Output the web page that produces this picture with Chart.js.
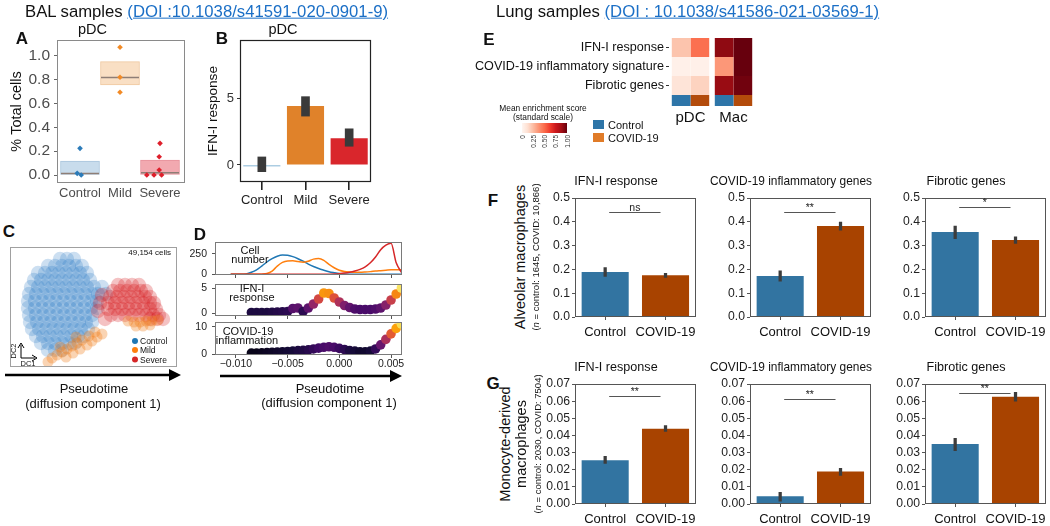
<!DOCTYPE html>
<html><head><meta charset="utf-8">
<script src="https://cdn.jsdelivr.net/npm/chart.js@4.4.1/dist/chart.umd.min.js"></script>
<style>
html,body{margin:0;padding:0;background:#fff;}
body{width:1050px;height:526px;position:relative;overflow:hidden;font-family:"Liberation Sans",Arial,Helvetica,sans-serif;color:#111;}
.t{position:absolute;white-space:nowrap;line-height:1;}
.doi{color:#1b6fc6;text-decoration:underline;}
canvas{position:absolute;}
</style></head><body>
<script>
// ---------------- DATA ----------------
// Panel A: % total cells (pDC), BAL samples
const groupsBAL = ['Control', 'Mild', 'Severe'];
const pctBoxLow = [0.00, 0.756, 0.00];
const pctBoxHigh = [0.118, 0.952, 0.126];
const pctMedian = [0.012, 0.82, 0.02];
const pctControl = [0.224, 0.014, 0.0];
const pctControlPos = [1.0, 0.93, 1.03];
const pctMild = [1.073, 0.821, 0.695];
const pctMildPos = [2.0, 2.0, 2.0];
const pctSevere = [0.266, 0.154, 0.042, 0.0, 0.0, 0.0];
const pctSeverePos = [3.0, 2.98, 2.98, 2.67, 2.85, 3.04];

// Panel B: IFN-I response (pDC)
const ifnMean = [-0.1, 4.4, 2.0];
const ifnErrLow = [-0.5, 3.65, 1.4];
const ifnErrHigh = [0.6, 5.1, 2.7];

// Panel C: diffusion map (DC1, DC2)
const dcControl = [[50,108],[57,108],[64,108],
[38,101],[45,101],[52,101],[59,101],[66,101],[72,101],
[28,94],[35,94],[42,94],[49,94],[56,94],[63,94],[70,94],[77,94],
[24,87],[31,87],[38,87],[45,87],[52,87],[59,87],[66,87],[73,87],[80,87],
[21,80],[28,80],[35,80],[42,80],[49,80],[56,80],[63,80],[70,80],[77,80],[84,80],[92,80],
[19,73],[26,73],[33,73],[40,73],[47,73],[54,73],[61,73],[68,73],[75,73],[82,73],[88,73],[96,73],
[18,66],[25,66],[32,66],[39,66],[46,66],[53,66],[60,66],[67,66],[74,66],[81,66],[87,66],
[18,59],[25,59],[32,59],[39,59],[46,59],[53,59],[60,59],[67,59],[74,59],[81,59],[87,59],
[19,52],[26,52],[33,52],[40,52],[47,52],[54,52],[61,52],[68,52],[75,52],[82,52],
[20,45],[27,45],[34,45],[41,45],[48,45],[55,45],[62,45],[69,45],[76,45],[82,45],
[22,38],[29,38],[36,38],[43,38],[50,38],[57,38],[64,38],[71,38],[78,38],
[26,31],[33,31],[40,31],[47,31],[54,31],[61,31],[68,31],[74,31],
[31,24],[38,24],[45,24],[52,24],[59,24],[65,24],
[38,17],[45,17],[52,17]];
const dcSevere = [[108,82],[115,82],[122,82],[129,82],
[103,76],[110,76],[117,76],[124,76],[131,76],[136,76],
[100,70],[107,70],[114,70],[121,70],[128,70],[135,70],[140,70],
[98,64],[105,64],[112,64],[119,64],[126,64],[133,64],[140,64],[144,64],
[98,58],[105,58],[112,58],[119,58],[126,58],[133,58],[140,58],[146,58],
[101,52],[108,52],[115,52],[122,52],[129,52],[136,52],[143,52],[149,52],
[140,48],[147,48],[153,48],
[90,64],[92,72],[88,56],[95,48]];
const dcMild = [[118,46],[124,45],[130,45],[136,46],[142,46],[148,47],[126,41],[133,41],[140,42],
[38,5],[42,9],[47,12],[52,15],[57,18],[62,21],[67,24],[72,27],[56,10],[63,14],[70,18],[77,22],
[82,26],[87,30],[92,33],[79,31],[85,35],[50,20],[66,30]];

// Panel D: pseudotime profiles
const pt = [-0.0105,-0.010,-0.0095,-0.009,-0.0085,-0.008,-0.0075,-0.007,-0.0065,-0.006,-0.0055,-0.005,-0.0045,-0.004,-0.0035,-0.003,-0.0025,-0.002,-0.0015,-0.001,-0.0005,0,0.0005,0.001,0.0015,0.002,0.0025,0.003,0.0035,0.004,0.0045,0.005,0.0055,0.006];
const cellControl = [0,0,0,5,25,55,100,150,190,220,235,232,215,190,160,125,95,70,50,32,20,10,5,2,1,0,0,0,0,0,0,0,0,0];
const cellMild = [0,0,0,0,0,0,2,10,40,100,145,163,165,155,147,160,185,192,170,120,80,50,35,28,25,25,28,33,40,45,50,55,55,55];
const cellSevere = [0,0,0,0,0,0,0,0,0,0,0,0,0,0,0,0,0,0,0,1,3,8,15,25,40,60,90,140,210,300,355,378,140,25];
const ptS = [-0.0085,-0.008,-0.0075,-0.007,-0.0065,-0.006,-0.0055,-0.005,-0.0045,-0.004,-0.0035,-0.003,-0.0025,-0.002,-0.0015,-0.001,-0.0005,0,0.0005,0.001,0.0015,0.002,0.0025,0.003,0.0035,0.004,0.0045,0.005,0.0055,0.006];
const ifnScore = [0.1,0.1,0.1,0.1,0.15,0.2,0.25,0.3,0.9,1.0,0.3,1.0,1.8,2.8,4.0,3.9,3.0,2.2,1.5,1.1,0.8,0.7,0.7,0.7,0.8,1.0,1.6,2.6,3.8,5.0];
const covidScore = [0.5,0.5,0.6,0.7,0.8,0.9,1.0,1.1,1.2,1.4,1.5,1.7,2.0,2.3,2.6,2.8,2.6,2.2,1.8,1.4,1.2,1.0,1.0,1.2,2.0,3.5,5.5,7.5,9.5,11];
const ptTickLabels = ['\u22120.010', '\u22120.005', '0.000', '0.005'];

// Panel E: mean enrichment (standard scale)
const signatures = ['IFN-I response', 'COVID-19 inflammatory signature', 'Fibrotic genes'];
const cellTypes = ['pDC', 'Mac'];
const conditions = ['Control', 'COVID-19'];
const enrichPdcControl = [0.22, 0.03, 0.10];
const enrichPdcCovid = [0.48, 0.03, 0.17];
const enrichMacControl = [0.92, 0.36, 0.90];
const enrichMacCovid = [1.00, 1.00, 0.98];

// Panel F: alveolar macrophages
const amIfn = [0.189, 0.175], amIfnLo = [0.171, 0.166], amIfnHi = [0.208, 0.184];
const amCovid = [0.172, 0.382], amCovidLo = [0.151, 0.365], amCovidHi = [0.194, 0.399];
const amFib = [0.357, 0.324], amFibLo = [0.329, 0.309], amFibHi = [0.382, 0.337];
const amSigY = [0.443, 0.44, 0.462], amSigLabel = ['ns', '**', '*'];

// Panel G: monocyte-derived macrophages
const moIfn = [0.0255, 0.0439], moIfnLo = [0.0236, 0.0423], moIfnHi = [0.0278, 0.0457];
const moCovid = [0.0045, 0.0189], moCovidLo = [0.0017, 0.0166], moCovidHi = [0.0068, 0.0208];
const moFib = [0.035, 0.0626], moFibLo = [0.0311, 0.0600], moFibHi = [0.0383, 0.0651];
const moSigY = [0.0628, 0.0614, 0.0648], moSigLabel = ['**', '**', '**'];

// ---------------- HELPERS ----------------
Chart.defaults.font.family = '"Liberation Sans", Arial, Helvetica, sans-serif';
Chart.defaults.color = '#222';
Chart.defaults.animation = false;
Chart.defaults.responsive = false;
Chart.defaults.layout.autoPadding = false;
Chart.defaults.plugins.legend.display = false;
Chart.defaults.plugins.tooltip.enabled = false;

const framePlugin = {
  id: 'frame',
  afterDatasetsDraw(chart, args, opts) {
    if (!opts || !opts.color) return;
    const a = chart.chartArea, ctx = chart.ctx;
    ctx.save();
    ctx.strokeStyle = opts.color; ctx.lineWidth = opts.width || 1;
    const l = Math.round(a.left) + 0.5, t = Math.round(a.top) + 0.5;
    const r = Math.round(a.right) - 0.5, b = Math.round(a.bottom) - 0.5;
    ctx.strokeRect(l, t, r - l, b - t);
    ctx.restore();
  }
};
const sigPlugin = {
  id: 'sig',
  afterDatasetsDraw(chart, args, opts) {
    if (!opts || opts.y == null) return;
    const xs = chart.scales.x, ys = chart.scales.y, ctx = chart.ctx;
    const x1 = xs.getPixelForValue(0) + 4, x2 = xs.getPixelForValue(1) - 5;
    const py = Math.round(ys.getPixelForValue(opts.y)) + 0.5;
    ctx.save();
    ctx.strokeStyle = '#555'; ctx.lineWidth = 1.1;
    ctx.beginPath(); ctx.moveTo(x1, py); ctx.lineTo(x2, py); ctx.stroke();
    ctx.fillStyle = '#222'; ctx.font = '10.5px "Liberation Sans", Arial, sans-serif';
    ctx.textAlign = 'center'; ctx.textBaseline = 'alphabetic';
    ctx.fillText(opts.label, (x1 + x2) / 2, py - 1.5);
    ctx.restore();
  }
};
Chart.register(framePlugin, sigPlugin);

function makeCtx(left, top, width, height) {
  const c = document.createElement('canvas');
  c.width = Math.round(width); c.height = Math.round(height);
  c.style.left = Math.round(left) + 'px'; c.style.top = Math.round(top) + 'px';
  c.style.width = Math.round(width) + 'px'; c.style.height = Math.round(height) + 'px';
  document.body.appendChild(c);
  return c.getContext('2d');
}
function addText(str, x, y, o = {}) {
  const d = document.createElement('div');
  d.className = 't';
  if (o.html) d.innerHTML = str; else d.textContent = str;
  d.style.left = x + 'px'; d.style.top = y + 'px';
  d.style.fontSize = (o.size || 12) + 'px';
  if (o.bold) d.style.fontWeight = 'bold';
  if (o.color) d.style.color = o.color;
  const ax = o.align === 'left' ? '0' : o.align === 'right' ? '-100%' : '-50%';
  d.style.transform = `translate(${ax},-50%)` + (o.rot ? ` rotate(${o.rot}deg)` : '');
  document.body.appendChild(d);
  return d;
}
function hexRgb(h) { return [parseInt(h.slice(1,3),16), parseInt(h.slice(3,5),16), parseInt(h.slice(5,7),16)]; }
function cmap(stops, t) {
  t = Math.max(0, Math.min(1, t));
  const n = stops.length - 1, f = t * n, i = Math.min(Math.floor(f), n - 1), u = f - i;
  const a = hexRgb(stops[i]), b = hexRgb(stops[i + 1]);
  return `rgb(${Math.round(a[0]+(b[0]-a[0])*u)},${Math.round(a[1]+(b[1]-a[1])*u)},${Math.round(a[2]+(b[2]-a[2])*u)})`;
}
const REDS = ['#fff5f0','#fee0d2','#fcbba1','#fc9272','#fb6a4a','#ef3b2c','#cb181d','#a50f15','#67000d'];
const INFERNO = ['#000004','#160b39','#420a68','#6a176e','#932667','#bc3754','#dd513a','#f37819','#fca50a','#f6d746','#fcffa4'];
const fixW = w => s => { s.width = w; };
const fixH = h => s => { s.height = h; };

// ---------------- PANEL A ----------------
new Chart(makeCtx(0, 20, 188, 185), {
  type: 'bar',
  data: { datasets: [
    { type: 'scatter', order: 0, data: pctControl.map((v, i) => ({x: pctControlPos[i], y: v})),
      pointStyle: 'rectRot', pointRadius: 2.8, backgroundColor: '#2b7bb9', borderWidth: 0 },
    { type: 'scatter', order: 0, data: pctMild.map((v, i) => ({x: pctMildPos[i], y: v})),
      pointStyle: 'rectRot', pointRadius: 2.8, backgroundColor: '#f28a25', borderWidth: 0 },
    { type: 'scatter', order: 0, data: pctSevere.map((v, i) => ({x: pctSeverePos[i], y: v})),
      pointStyle: 'rectRot', pointRadius: 2.8, backgroundColor: '#de1f2b', borderWidth: 0 },
    { type: 'scatter', order: 1, data: pctMedian.map((v, i) => ({x: i + 1, y: v})),
      pointStyle: 'line', pointRadius: 19, borderColor: '#8e7e76', borderWidth: 1.5 },
    { type: 'bar', order: 2, data: pctBoxLow.map((v, i) => ({x: i + 1, y: [v, pctBoxHigh[i]]})),
      barThickness: 39, backgroundColor: ['#c8dcec', '#f9dfc4', '#f2a9b0'],
      borderColor: ['#a9c5dd', '#efc8a0', '#e6929b'], borderWidth: 1, borderSkipped: false }
  ]},
  options: {
    layout: { padding: { left: 0, right: 3, top: 0, bottom: 0 } },
    plugins: {
      title: { display: true, text: 'pDC', color: '#111', font: { size: 14.5, weight: 'normal' }, padding: { top: 1.3, bottom: 1.3 } },
      frame: { color: '#8a8a8a', width: 1 }
    },
    scales: {
      x: { type: 'linear', offset: false, min: 0.425, max: 3.625, afterFit: fixH(22),
        ticks: { stepSize: 1, includeBounds: false, callback: v => groupsBAL[v - 1] || '', font: { size: 13 }, color: '#4d4d4d', padding: 3, autoSkip: false, maxRotation: 0 },
        grid: { display: false, drawTicks: false }, border: { display: false } },
      y: { min: -0.067, max: 1.134, afterFit: fixW(57),
        ticks: { stepSize: 0.2, includeBounds: false, callback: v => v.toFixed(1), font: { size: 15.5 }, color: '#4d4d4d', padding: 4, autoSkip: false },
        grid: { display: true, drawOnChartArea: false, tickLength: 3, color: '#666' }, border: { display: false },
        title: { display: true, text: '% Total cells', font: { size: 14.5 }, color: '#111', padding: { top: 8, bottom: 0 } } }
    }
  }
});

// ---------------- PANEL B ----------------
new Chart(makeCtx(195, 20, 179, 186), {
  type: 'bar',
  data: { labels: groupsBAL, datasets: [
    { order: 0, grouped: false, data: ifnErrLow.map((v, i) => [v, ifnErrHigh[i]]), barThickness: 8, backgroundColor: '#3a3a3a', borderWidth: 0 },
    { order: 1, data: ifnMean, backgroundColor: ['#5b9bc6', '#e0822a', '#d9262c'], borderWidth: 0, barPercentage: 0.85, categoryPercentage: 1 }
  ]},
  options: {
    layout: { padding: { left: 0, right: 3, top: 0, bottom: 0 } },
    plugins: {
      title: { display: true, text: 'pDC', color: '#111', font: { size: 14.5, weight: 'normal' }, padding: { top: 1.3, bottom: 1.3 } },
      frame: { color: '#222', width: 1.2 }
    },
    scales: {
      x: { afterFit: fixH(24),
        ticks: { font: { size: 13 }, color: '#222', padding: 2.5, maxRotation: 0, autoSkip: false },
        grid: { display: true, offset: false, drawOnChartArea: false, tickLength: 8, color: '#222', lineWidth: 1.6 }, border: { display: false } },
      y: { min: -1.27, max: 9.33, afterFit: fixW(45),
        ticks: { stepSize: 5, includeBounds: false, font: { size: 13 }, color: '#333', padding: 3 },
        grid: { display: true, drawOnChartArea: false, tickLength: 3, color: '#333' }, border: { display: false },
        title: { display: true, text: 'IFN-I response', font: { size: 13.6 }, color: '#111', padding: { top: 9.8, bottom: 0 } } }
    }
  }
});

// ---------------- PANEL C ----------------
new Chart(makeCtx(10, 247, 167, 120), {
  type: 'scatter',
  data: { datasets: [
    { order: 0, data: dcMild.map(p => ({x: p[0], y: p[1]})), pointRadius: 5.5, backgroundColor: 'rgba(240,125,25,0.33)', borderWidth: 0 },
    { order: 1, data: dcSevere.map(p => ({x: p[0], y: p[1]})), pointRadius: 7.2, backgroundColor: 'rgba(215,30,35,0.27)', borderWidth: 0 },
    { order: 2, data: dcControl.map(p => ({x: p[0], y: p[1]})), pointRadius: 7.2, backgroundColor: 'rgba(40,120,195,0.24)', borderWidth: 0 }
  ]},
  options: {
    layout: { padding: 0 },
    plugins: { frame: { color: '#a0a0a0', width: 1 } },
    scales: { x: { type: 'linear', display: false, min: 0, max: 167 }, y: { display: false, min: 0, max: 120 } }
  }
});

// ---------------- PANEL D ----------------
function dChart(top, bottom, datasets, yMin, yMax, yStep, showX) {
  const padT = 12, xH = showX ? 20 : 3, padB = showX ? 2 : 9;
  return new Chart(makeCtx(180, top - padT, 236, (bottom - top) + padT + xH + padB), {
    type: 'scatter',
    data: { datasets },
    options: {
      layout: { padding: { left: 0, right: 14, top: padT, bottom: padB } },
      plugins: { frame: { color: '#7a7a7a', width: 1 } },
      scales: {
        x: { type: 'linear', min: -0.01202, max: 0.00606, afterFit: fixH(xH),
          ticks: { display: showX, stepSize: 0.005, includeBounds: false, font: { size: 10.5 }, color: '#222', padding: 0, maxRotation: 0, autoSkip: false,
            callback: (v, i) => ptTickLabels[i] },
          grid: { display: true, drawOnChartArea: false, tickLength: 3, color: '#555' }, border: { display: false } },
        y: { min: yMin, max: yMax, afterFit: fixW(35),
          ticks: { stepSize: yStep, includeBounds: false, font: { size: 10.5 }, color: '#222', padding: 5, autoSkip: false },
          grid: { display: true, drawOnChartArea: false, tickLength: 3, color: '#555' }, border: { display: false } }
      }
    }
  });
}
const lineDS = (vals, color, order) => ({ type: 'line', order, data: vals.map((v, i) => ({x: pt[i], y: v})),
  borderColor: color, borderWidth: 1.5, pointRadius: 0, cubicInterpolationMode: 'monotone', fill: false });
dChart(242, 275, [lineDS(cellSevere, '#d62728', 0), lineDS(cellMild, '#ff7f0e', 1), lineDS(cellControl, '#1f77b4', 2)], -8, 393, 250, false);
dChart(284, 316, [{ data: ifnScore.map((v, i) => ({x: ptS[i], y: v})), pointRadius: 4.8, borderWidth: 0,
  backgroundColor: c => cmap(INFERNO, (c.raw.y + 0.6) / 6) }], -0.6, 5.8, 5, false);
dChart(322, 355, [{ data: covidScore.map((v, i) => ({x: ptS[i], y: v})), pointRadius: 4.8, borderWidth: 0,
  backgroundColor: c => cmap(INFERNO, c.raw.y / 12) }], -0.2, 11.8, 10, true);

// ---------------- PANEL E ----------------
const condColors = ['#2e75a8', '#b34b0b'];
const rowCenters = [1.08, 2.08, 3.08];
const rowLabelsBottomUp = [signatures[2], signatures[1], signatures[0]];
const heatDS = [];
[0, 1].forEach(c => heatDS.push({ stack: 's' + c, data: [0.58, 0.58], backgroundColor: condColors[c], borderWidth: 0, barPercentage: 1, categoryPercentage: 0.87 }));
[2, 1, 0].forEach(r => {
  heatDS.push({ stack: 's0', data: [1, 1], backgroundColor: [cmap(REDS, enrichPdcControl[r]), cmap(REDS, enrichMacControl[r])], borderWidth: 0, barPercentage: 1, categoryPercentage: 0.87 });
  heatDS.push({ stack: 's1', data: [1, 1], backgroundColor: [cmap(REDS, enrichPdcCovid[r]), cmap(REDS, enrichMacCovid[r])], borderWidth: 0, barPercentage: 1, categoryPercentage: 0.87 });
});
new Chart(makeCtx(455, 28, 302, 100), {
  type: 'bar',
  data: { labels: cellTypes, datasets: heatDS },
  options: {
    layout: { padding: { left: 0, right: 2, top: 10, bottom: 0 } },
    scales: {
      x: { stacked: true, afterFit: fixH(22), ticks: { font: { size: 15 }, color: '#111', padding: 3 }, grid: { display: false, drawTicks: false }, border: { display: false } },
      y: { stacked: true, min: 0, max: 3.58, afterFit: fixW(214),
        afterBuildTicks: s => { s.ticks = rowCenters.map(v => ({ value: v })); },
        ticks: { callback: (v, i) => rowLabelsBottomUp[i], font: { size: 12.6 }, color: '#111', padding: 2, autoSkip: false },
        grid: { display: true, drawOnChartArea: false, tickLength: 3, color: '#333' }, border: { display: false } }
    }
  }
});

// ---------------- PANELS F & G ----------------
function barPanel(L, T, B, title, mean, lo, hi, yMax, step, dec, sigY, sigLabel) {
  return new Chart(makeCtx(L - 40, T - 26, 166, (B - T) + 26 + 22), {
    type: 'bar',
    data: { labels: conditions, datasets: [
      { order: 0, grouped: false, data: lo.map((v, i) => [v, hi[i]]), barThickness: 2.6, backgroundColor: '#3c3c3c', borderWidth: 0 },
      { order: 1, data: mean, backgroundColor: ['#3274a1', '#a84300'], borderWidth: 0, barPercentage: 0.78, categoryPercentage: 1 }
    ]},
    options: {
      layout: { padding: { left: 0, right: 4, top: 0, bottom: 0 } },
      plugins: {
        title: { display: true, text: title, color: '#111', font: { size: 12.6, weight: 'normal' }, padding: { top: 2.44, bottom: 8.44 } },
        frame: { color: '#555', width: 1 },
        sig: { y: sigY, label: sigLabel }
      },
      scales: {
        x: { afterFit: fixH(22), ticks: { font: { size: 13 }, color: '#111', padding: 4.5, maxRotation: 0, autoSkip: false },
          grid: { display: true, offset: false, drawOnChartArea: false, tickLength: 3, color: '#555' }, border: { display: false } },
        y: { min: 0, max: yMax, afterFit: fixW(40),
          ticks: { stepSize: step, callback: v => v.toFixed(dec), font: { size: 12.2 }, color: '#222', padding: 2, autoSkip: false },
          grid: { display: true, drawOnChartArea: false, tickLength: 3, color: '#555' }, border: { display: false } }
      }
    }
  });
}
const panelLefts = [575, 750, 925];
const panelTitles = ['IFN-I response', 'COVID-19 inflammatory genes', 'Fibrotic genes'];
barPanel(panelLefts[0], 198, 317, panelTitles[0], amIfn, amIfnLo, amIfnHi, 0.5, 0.1, 1, amSigY[0], amSigLabel[0]);
barPanel(panelLefts[1], 198, 317, panelTitles[1], amCovid, amCovidLo, amCovidHi, 0.5, 0.1, 1, amSigY[1], amSigLabel[1]);
barPanel(panelLefts[2], 198, 317, panelTitles[2], amFib, amFibLo, amFibHi, 0.5, 0.1, 1, amSigY[2], amSigLabel[2]);
barPanel(panelLefts[0], 384, 504, panelTitles[0], moIfn, moIfnLo, moIfnHi, 0.07, 0.01, 2, moSigY[0], moSigLabel[0]);
barPanel(panelLefts[1], 384, 504, panelTitles[1], moCovid, moCovidLo, moCovidHi, 0.07, 0.01, 2, moSigY[1], moSigLabel[1]);
barPanel(panelLefts[2], 384, 504, panelTitles[2], moFib, moFibLo, moFibHi, 0.07, 0.01, 2, moSigY[2], moSigLabel[2]);

// ---------------- TEXT & DECORATIONS ----------------
addText('BAL samples <span class="doi">(DOI :10.1038/s41591-020-0901-9)</span>', 25, 12, { html: true, size: 16.7, align: 'left' });
addText('Lung samples <span class="doi">(DOI : 10.1038/s41586-021-03569-1)</span>', 496, 12, { html: true, size: 16.7, align: 'left' });
[['A', 22, 38], ['B', 222, 38], ['C', 9, 231], ['D', 200, 234], ['E', 489, 39], ['F', 493, 200], ['G', 493, 383]]
  .forEach(l => addText(l[0], l[1], l[2], { bold: true, size: 17 }));

addText('49,154 cells', 171, 253, { size: 8, align: 'right' });
addText('Control', 140, 341, { size: 8.5, align: 'left' });
addText('Mild', 140, 350, { size: 8.5, align: 'left' });
addText('Severe', 140, 359.5, { size: 8.5, align: 'left' });
addText('DC2', 14, 351, { size: 7.5, rot: -90 });
addText('DC1', 28, 364, { size: 7.5 });
addText('Pseudotime', 94, 388, { size: 13 });
addText('(diffusion component 1)', 93, 403, { size: 13 });

addText('Cell', 250, 250, { size: 11 });
addText('number', 250, 259, { size: 11 });
addText('IFN-I', 252, 288, { size: 11 });
addText('response', 252, 297, { size: 11 });
addText('COVID-19', 248, 331, { size: 11 });
addText('inflammation', 247, 340, { size: 11 });
addText('Pseudotime', 330, 388, { size: 13 });
addText('(diffusion component 1)', 329, 402, { size: 13 });

addText('Mean enrichment score', 543, 107.5, { size: 8.4 });
addText('(standard scale)', 543, 117, { size: 8.4 });
const cb = document.createElement('div');
cb.style.cssText = 'position:absolute;left:522px;top:123px;width:45px;height:10px;background:linear-gradient(to right,' + REDS.join(',') + ');';
document.body.appendChild(cb);
['0', '0.25', '0.50', '0.75', '1.00'].forEach((s, i) => {
  const d = document.createElement('div');
  d.textContent = s;
  d.style.cssText = `position:absolute;left:${522 + i * 11.25 - 3.5}px;top:135px;font-size:6.5px;line-height:7px;writing-mode:vertical-rl;transform:rotate(180deg);color:#333;white-space:nowrap;`;
  document.body.appendChild(d);
});
const legSq = (top, color) => { const d = document.createElement('div'); d.style.cssText = `position:absolute;left:593px;top:${top}px;width:11px;height:9px;background:${color};`; document.body.appendChild(d); };
legSq(120, '#2e75a8'); legSq(133, '#e07b28');
addText(conditions[0], 608, 125, { size: 11, align: 'left' });
addText(conditions[1], 608, 138, { size: 11, align: 'left' });

addText('Alveolar macrophages', 520, 257, { size: 14.5, rot: -90 });
addText('(<i>n</i> = control: 1645, COVID: 10,866)', 536, 257, { html: true, size: 9.5, rot: -90 });
addText('Monocyte-derived', 505, 444, { size: 14.5, rot: -90 });
addText('macrophages', 521, 444, { size: 14.5, rot: -90 });
addText('(<i>n</i> = control: 2030, COVID: 7504)', 538, 444, { html: true, size: 9.5, rot: -90 });

const svgNS = 'http://www.w3.org/2000/svg';
const svg = document.createElementNS(svgNS, 'svg');
svg.setAttribute('width', '1050'); svg.setAttribute('height', '526');
svg.style.cssText = 'position:absolute;left:0;top:0;pointer-events:none;';
svg.innerHTML = `
<line x1="5" y1="375" x2="171" y2="375" stroke="#000" stroke-width="2.6"/>
<polygon points="169,369 181,375 169,381" fill="#000"/>
<line x1="220" y1="376" x2="392" y2="376" stroke="#000" stroke-width="2.6"/>
<polygon points="390,370 402,376 390,382" fill="#000"/>
<line x1="21" y1="358" x2="21" y2="345" stroke="#000" stroke-width="1"/>
<polyline points="18,348 21,343 24,348" fill="none" stroke="#000" stroke-width="1"/>
<line x1="21" y1="358" x2="35" y2="358" stroke="#000" stroke-width="1"/>
<polyline points="32,355 37,358 32,361" fill="none" stroke="#000" stroke-width="1"/>
<circle cx="135" cy="341" r="3" fill="#1f77b4"/>
<circle cx="135" cy="350" r="3" fill="#ff7f0e"/>
<circle cx="135" cy="359.5" r="3" fill="#d62728"/>`;
document.body.appendChild(svg);
</script>
</body></html>
